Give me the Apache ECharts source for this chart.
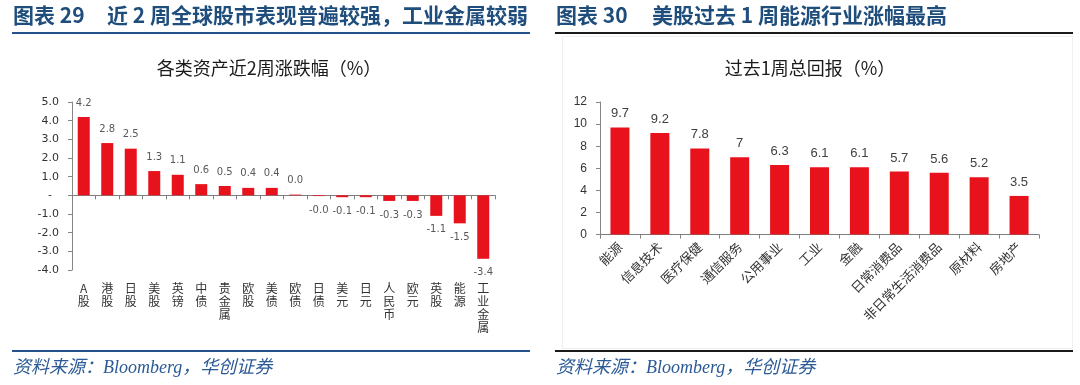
<!DOCTYPE html>
<html>
<head>
<meta charset="utf-8">
<script src="https://cdn.jsdelivr.net/npm/echarts@6/dist/echarts.min.js"></script>
<style>
html,body{margin:0;padding:0;background:#fff;}
#c{width:1080px;height:385px;}
</style>
</head>
<body>
<div id="c"></div>
<script>
// ---- data ----
var leftCats = ['A股','港股','日股','美股','英镑','中债','贵金属','欧股','美债','欧债','日债','美元','日元','人民币','欧元','英股','能源','工业金属'];
var leftVals = [4.2, 2.8, 2.5, 1.3, 1.1, 0.6, 0.5, 0.4, 0.4, 0.04, -0.04, -0.1, -0.1, -0.3, -0.3, -1.1, -1.5, -3.4];
var leftTicks = [-4, -3, -2, -1, 0, 1, 2, 3, 4, 5];

var rightCats = ['能源','信息技术','医疗保健','通信服务','公用事业','工业','金融','日常消费品','非日常生活消费品','原材料','房地产'];
var rightVals = [9.7, 9.2, 7.8, 7, 6.3, 6.1, 6.1, 5.7, 5.6, 5.2, 3.5];
var rightTicks = [0, 2, 4, 6, 8, 10, 12];

var header1a = '图表 29', header1b = '近 2 周全球股市表现普遍较强，工业金属较弱';
var header2a = '图表 30', header2b = '美股过去 1 周能源行业涨幅最高';
var title1 = '各类资产近2周涨跌幅（%）';
var title2 = '过去1周总回报（%）';
var source = '资料来源：Bloomberg，华创证券';

// ---- chart ----
var CJK = '"Noto Sans CJK SC", "Noto Sans", sans-serif';
var RED = '#e8121c';
var chart = echarts.init(document.getElementById('c'), null, {renderer: 'canvas'});

function hdr(x, t, size) {
  return {type: 'text', left: x, top: 5, style: {text: t, font: 'bold ' + size + 'px ' + CJK, fill: '#1f4d7c'}};
}

var option = {
  backgroundColor: '#fff',
  animation: false,
  grid: [
    {left: 72, top: 102, width: 423, height: 168, containLabel: false, outerBoundsMode: 'none'},
    {left: 600, top: 102, width: 439, height: 132.6, containLabel: false, outerBoundsMode: 'none'}
  ],
  xAxis: [
    {
      type: 'category', gridIndex: 0, data: leftCats,
      axisLine: {onZero: true, lineStyle: {color: '#7f7f7f', width: 1}},
      axisTick: {show: true, length: 4, alignWithLabel: false, lineStyle: {color: '#7f7f7f'}},
      axisLabel: {
        interval: 0, margin: 12, fontSize: 12, lineHeight: 13, color: '#333',
        fontFamily: CJK, verticalAlign: 'top', hideOverlap: false,
        formatter: function (v) { return v.split('').join('\n'); }
      },
      splitLine: {show: false}
    },
    {
      type: 'category', gridIndex: 1, data: rightCats,
      axisLine: {lineStyle: {color: '#7f7f7f', width: 1}},
      axisTick: {show: true, length: 4, alignWithLabel: false, lineStyle: {color: '#7f7f7f'}},
      axisLabel: {interval: 0, rotate: 45, margin: 10, fontSize: 13, color: '#333', fontFamily: CJK},
      splitLine: {show: false}
    }
  ],
  yAxis: [
    {
      type: 'value', gridIndex: 0, min: leftTicks[0], max: leftTicks[leftTicks.length - 1], interval: 1,
      axisLine: {show: true, lineStyle: {color: '#868686'}},
      axisTick: {show: true, length: 4, lineStyle: {color: '#868686'}},
      splitLine: {show: false},
      axisLabel: {
        margin: 13, fontSize: 11, color: '#333', fontFamily: '"DejaVu Sans", sans-serif',
        formatter: function (v) { return v === 0 ? '-  ' : v.toFixed(1); }
      }
    },
    {
      type: 'value', gridIndex: 1, min: rightTicks[0], max: rightTicks[rightTicks.length - 1], interval: 2,
      axisLine: {show: true, lineStyle: {color: '#868686'}},
      axisTick: {show: true, length: 4, lineStyle: {color: '#868686'}},
      splitLine: {show: false},
      axisLabel: {margin: 13, fontSize: 12, color: '#333', fontFamily: '"Liberation Sans", Arial, sans-serif'}
    }
  ],
  series: [
    {
      type: 'bar', xAxisIndex: 0, yAxisIndex: 0, barWidth: 12,
      data: leftVals.map(function (v) {
        return {
          value: v,
          label: {position: v >= 0 ? 'top' : 'bottom'}
        };
      }),
      itemStyle: {color: RED},
      label: {
        show: true, distance: 9, fontSize: 10, color: '#595959', fontFamily: '"DejaVu Sans", sans-serif',
        formatter: function (p) { return p.value.toFixed(1); }
      }
    },
    {
      type: 'bar', xAxisIndex: 1, yAxisIndex: 1, barWidth: 19,
      data: rightVals,
      itemStyle: {color: RED},
      label: {show: true, position: 'top', distance: 7, fontSize: 13, color: '#404040', fontFamily: '"Liberation Sans", Arial, sans-serif'}
    }
  ],
  graphic: [
    // faint chart frame on right
    {type: 'rect', shape: {x: 562.5, y: 36.5, width: 510, height: 312}, style: {fill: 'none', stroke: '#efefef', lineWidth: 1}, silent: true, z: -10},
    // headers
    hdr(13, header1a, 21),
    hdr(107, header1b, 21),
    hdr(556, header2a, 21),
    hdr(652, header2b, 21),
    // header underlines
    {type: 'rect', shape: {x: 12, y: 32, width: 518, height: 2}, style: {fill: '#24528a'}},
    {type: 'rect', shape: {x: 555, y: 32, width: 518, height: 2}, style: {fill: '#1a1a1a'}},
    // chart titles
    {type: 'text', x: 269, y: 68, style: {text: title1, font: '18px ' + CJK, fill: '#1a1a1a', textAlign: 'center', textVerticalAlign: 'middle'}},
    {type: 'text', x: 810, y: 68, style: {text: title2, font: '18px ' + CJK, fill: '#1a1a1a', textAlign: 'center', textVerticalAlign: 'middle'}},
    // bottom lines
    {type: 'rect', shape: {x: 12, y: 350, width: 518, height: 2}, style: {fill: '#24528a'}},
    {type: 'rect', shape: {x: 555, y: 350, width: 518, height: 2}, style: {fill: '#1a1a1a'}},
    // sources
    {type: 'text', x: 13, y: 368, style: {text: source, font: 'italic 18px "Liberation Serif", ' + CJK, fill: '#2b5a96', textVerticalAlign: 'middle'}},
    {type: 'text', x: 556, y: 368, style: {text: source, font: 'italic 18px "Liberation Serif", ' + CJK, fill: '#2b5a96', textVerticalAlign: 'middle'}}
  ]
};
chart.setOption(option);
</script>
</body>
</html>
